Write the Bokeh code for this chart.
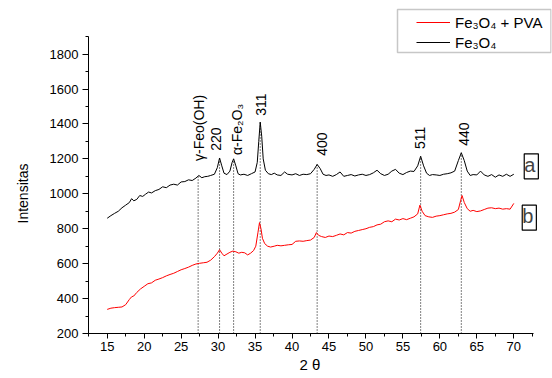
import numpy as np
from math import pi
from bokeh.plotting import figure
from bokeh.models import (Range1d, SingleIntervalTicker, Legend, LegendItem, Label,
                          BoxAnnotation, ColumnDataSource, Title)
from bokeh.core.properties import value
from bokeh.embed import file_html
from bokeh.resources import INLINE

# ---------------- data ----------------
two_theta_fe3o4 = [15.0, 15.5, 16.0, 16.5, 17.0, 17.5, 18.0, 18.3, 18.6, 19.0, 19.4, 19.8, 20.2, 20.6,
                   21.0, 21.5, 22.0, 22.5, 23.0, 23.5, 24.0, 24.5, 25.0, 25.5, 26.0, 26.5, 27.0, 27.4,
                   27.8, 28.2, 28.6, 29.0, 29.5, 29.9, 30.2, 30.5, 30.8, 31.2, 31.6, 31.9, 32.1, 32.4,
                   32.7, 33.0, 33.5, 34.0, 34.5, 35.0, 35.3, 35.5, 35.7, 35.9, 36.1, 36.4, 36.8, 37.2,
                   37.6, 38.0, 38.5, 39.0, 39.4, 40.0, 40.5, 41.0, 41.5, 42.0, 42.5, 43.0, 43.4, 43.8,
                   44.2, 44.6, 45.0, 45.5, 46.0, 46.5, 47.0, 47.5, 48.0, 48.5, 49.0, 49.5, 50.0, 50.5,
                   51.0, 51.5, 52.0, 52.5, 53.0, 53.5, 54.0, 54.5, 55.0, 55.5, 56.0, 56.5, 57.0, 57.4,
                   57.8, 58.2, 58.6, 59.0, 59.5, 60.0, 60.5, 61.0, 61.5, 62.0, 62.5, 62.9, 63.3, 63.7,
                   64.1, 64.5, 65.0, 65.5, 66.0, 66.5, 67.0, 67.5, 68.0, 68.5, 69.0, 69.5, 70.0]
intensity_fe3o4 = [860, 875, 888, 900, 920, 935, 950, 972, 960, 968, 990, 985, 998, 1010,
                   1005, 1018, 1025, 1040, 1035, 1050, 1055, 1050, 1068, 1070, 1080, 1076, 1090, 1105,
                   1092, 1098, 1100, 1105, 1112, 1150, 1205, 1160, 1118, 1110, 1130, 1180, 1200, 1160,
                   1115, 1108, 1112, 1105, 1115, 1125, 1180, 1300, 1410, 1330, 1200, 1135, 1115, 1110,
                   1118, 1108, 1105, 1125, 1112, 1108, 1115, 1105, 1112, 1110, 1115, 1140, 1168, 1145,
                   1112, 1105, 1108, 1100, 1110, 1125, 1100, 1105, 1110, 1102, 1108, 1112, 1105, 1110,
                   1120, 1135, 1115, 1105, 1112, 1130, 1140, 1118, 1110, 1122, 1130, 1128, 1160, 1215,
                   1160, 1118, 1105, 1110, 1108, 1105, 1112, 1115, 1120, 1130, 1190, 1235, 1190, 1130,
                   1105, 1110, 1108, 1130, 1108, 1100, 1110, 1095, 1108, 1100, 1112, 1100, 1112]

two_theta_pva = [15.0, 15.5, 16.0, 16.5, 17.0, 17.5, 18.0, 18.3, 18.6, 19.0, 19.5, 20.0, 20.5, 21.0,
                 21.5, 22.0, 22.5, 23.0, 23.5, 24.0, 24.5, 25.0, 25.5, 26.0, 26.5, 27.0, 27.5, 28.0,
                 28.5, 29.0, 29.5, 29.9, 30.2, 30.5, 30.8, 31.2, 31.6, 32.0, 32.4, 32.8, 33.2, 33.6,
                 34.0, 34.4, 34.8, 35.1, 35.4, 35.6, 35.8, 36.0, 36.3, 36.7, 37.1, 37.6, 38.0, 38.5,
                 39.0, 39.5, 40.0, 40.5, 41.0, 41.5, 42.0, 42.5, 43.0, 43.3, 43.6, 44.0, 44.5, 45.0,
                 45.5, 46.0, 46.5, 47.0, 47.5, 48.0, 48.5, 49.0, 49.5, 50.0, 50.5, 51.0, 51.5, 52.0,
                 52.5, 53.0, 53.5, 54.0, 54.5, 55.0, 55.5, 56.0, 56.5, 57.0, 57.3, 57.6, 58.0, 58.5,
                 59.0, 59.5, 60.0, 60.5, 61.0, 61.5, 62.0, 62.5, 62.8, 63.0, 63.3, 63.7, 64.1, 64.5,
                 65.0, 65.5, 66.0, 66.5, 67.0, 67.5, 68.0, 68.5, 69.0, 69.5, 70.0]
intensity_pva = [338, 345, 348, 350, 352, 365, 395, 410, 415, 435, 455, 470, 485, 490,
                 505, 512, 520, 530, 538, 545, 555, 565, 572, 580, 590, 598, 602, 605,
                 608, 620, 640, 660, 680, 660, 645, 655, 665, 672, 668, 660, 665, 662,
                 650, 660, 675, 700, 780, 835, 800, 745, 715, 700, 695, 700, 705, 702,
                 705, 708, 710, 728, 730, 728, 732, 735, 750, 778, 762, 755, 750, 758,
                 755, 762, 770, 765, 778, 775, 785, 790, 795, 800, 808, 812, 822, 826,
                 840, 845, 840, 855, 850, 858, 852, 860, 868, 885, 935, 900, 875, 868,
                 865, 872, 875, 880, 885, 888, 895, 910, 960, 990, 950, 915, 900, 905,
                 898, 902, 910, 918, 920, 915, 918, 912, 915, 912, 945]

peak_positions = [27.3, 30.2, 32.1, 35.7, 43.4, 57.4, 62.9]
peak_labels = ["γ-Feo(OH)", "220", "α-Fe₂O₃", "311", "400", "511", "440"]
peak_label_x = [27.35, 29.65, 32.6, 35.75, 44.1, 57.25, 63.3]
peak_label_y = [1188, 1246, 1222, 1447, 1218, 1256, 1275]

x_ticks_interval = 5
y_ticks_interval = 200

FONT = "Liberation Sans"

# ---------------- figure geometry ----------------
W, H = 552, 378
LEFT, RIGHT, TOP, BOTTOM = 88, 1, 4, 45
X0, X1 = 12.47, 75.1
Y0, Y1 = 200, 2084

p = figure(width=W, height=H, output_backend="svg", toolbar_location=None,
           x_range=Range1d(X0, X1), y_range=Range1d(Y0, Y1),
           min_border_left=LEFT, min_border_right=RIGHT, min_border_top=TOP,
           min_border_bottom=BOTTOM)
p.xgrid.visible = False
p.ygrid.visible = False
p.outline_line_color = None
p.background_fill_color = "white"
p.border_fill_color = "white"

fw = W - LEFT - RIGHT
fh = H - TOP - BOTTOM
def px_to_x(px):
    return X0 + (px - LEFT) / fw * (X1 - X0)
def py_to_y(py):
    return Y0 + (H - BOTTOM - py) / fh * (Y1 - Y0)

# axes
p.xaxis.ticker = SingleIntervalTicker(interval=x_ticks_interval, num_minor_ticks=2)
p.yaxis.ticker = SingleIntervalTicker(interval=y_ticks_interval, num_minor_ticks=2)
p.xaxis.bounds = (X0, 72.6)
p.yaxis.bounds = (200, 1900)
for ax in (p.xaxis, p.yaxis):
    ax.axis_line_color = "black"
    ax.major_tick_line_color = "black"
    ax.minor_tick_line_color = "black"
    ax.major_tick_in = 0
    ax.minor_tick_in = 0
    ax.major_label_text_font = FONT
    ax.major_label_text_font_size = "13px"
    ax.major_label_text_color = "black"
p.xaxis.major_tick_out = 5
p.xaxis.minor_tick_out = 3
p.yaxis.major_tick_out = 6
p.yaxis.minor_tick_out = 3
p.xaxis.major_label_standoff = 3
p.yaxis.major_label_standoff = 4

# axis titles as side titles (so they can be placed off-centre like the original)
p.add_layout(Title(text="2 θ", text_font=FONT, text_font_size="15px",
                   text_font_style="normal", text_color="black", align="left",
                   offset=211, standoff=5, vertical_align="top"), "below")
p.add_layout(Title(text="Intensitas", text_font=FONT, text_font_size="14px",
                   text_font_style="normal", text_color="black", align="left",
                   offset=110, standoff=28, vertical_align="top"), "left")

# dotted reference lines
tops = np.interp(peak_positions, two_theta_fe3o4, intensity_fe3o4)
seg = ColumnDataSource(dict(x0=peak_positions, y0=[200] * len(peak_positions),
                            x1=peak_positions, y1=list(tops)))
p.segment("x0", "y0", "x1", "y1", source=seg, line_color="black", line_width=1,
          line_dash="1 2")

# curves
r_black = p.line(two_theta_fe3o4, intensity_fe3o4, line_color="black", line_width=1)
r_red = p.line(two_theta_pva, intensity_pva, line_color="#ff0000", line_width=1)

# peak labels
lab = ColumnDataSource(dict(x=peak_label_x, y=peak_label_y, text=peak_labels))
p.text("x", "y", text="text", source=lab, angle=pi / 2, text_font=value(FONT),
       text_font_size="14px", text_align="left", text_baseline="middle", text_color="black")

# a / b boxes
for txt, cx, cy in (("a", 530.8, 165.8), ("b", 528.8, 217.2)):
    p.add_layout(Label(x=px_to_x(cx), y=py_to_y(cy), text=txt, text_font=FONT,
                       text_font_size="20px", text_align="center", text_baseline="middle",
                       border_line_color="black", border_line_width=1.2,
                       background_fill_color="white", padding=(0, 3, 0, 3)))

# legend box
p.add_layout(BoxAnnotation(left=px_to_x(397), right=px_to_x(550.5), top=py_to_y(9),
                           bottom=py_to_y(52), fill_color=None, fill_alpha=0,
                           line_color="#444444", line_width=1.5))
legend = Legend(items=[LegendItem(label="Fe₃O₄ + PVA", renderers=[r_red]),
                       LegendItem(label="Fe₃O₄", renderers=[r_black])],
                location=(416 - LEFT, (H - BOTTOM) - 52),
                border_line_color=None, background_fill_alpha=0, padding=0, margin=0,
                spacing=0, glyph_width=34, glyph_height=20, label_height=20,
                label_standoff=5, label_text_font=FONT, label_text_font_size="15px",
                label_text_color="black")
p.add_layout(legend)

open("out.html", "w").write(file_html(p, INLINE))
